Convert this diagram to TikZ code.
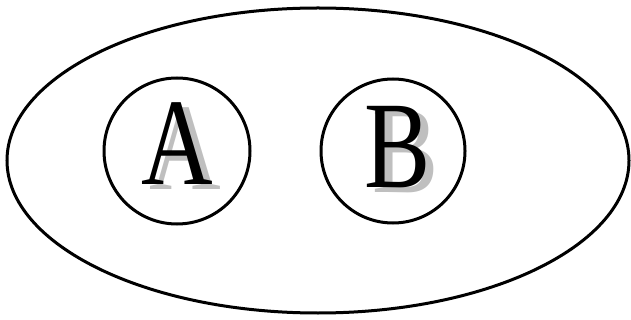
\documentclass[tikz,border=0pt]{standalone}
\usepackage{fontspec}
\setmainfont{Liberation Serif}
\newfontfamily\narrowserif[FakeStretch=0.8]{Liberation Serif}
\usetikzlibrary{shapes.geometric}
\begin{document}
\begin{tikzpicture}[x=1pt,y=-1pt,
  outline/.style={draw=black,line width=3pt},
  letter/.style={inner sep=0pt,anchor=base,font=\narrowserif\fontsize{124}{124}\selectfont},
  shadowletter/.style={letter,text=black!25}]
\useasboundingbox (0,0) rectangle (631,320);
\node[outline,ellipse,minimum width=622pt,minimum height=305pt,inner sep=0pt] (outer) at (318,160.5) {};
\node[outline,circle,minimum size=146pt,inner sep=0pt] (ca) at (177,151) {};
\node[outline,circle,minimum size=144pt,inner sep=0pt] (cb) at (393,151) {};
\node[shadowletter] (sa) at (185,190) {A};
\node[letter] (la) at (177,185) {A};
\node[shadowletter] (sb) at (406,193) {B};
\node[letter] (lb) at (398,188) {B};
\end{tikzpicture}
\end{document}
